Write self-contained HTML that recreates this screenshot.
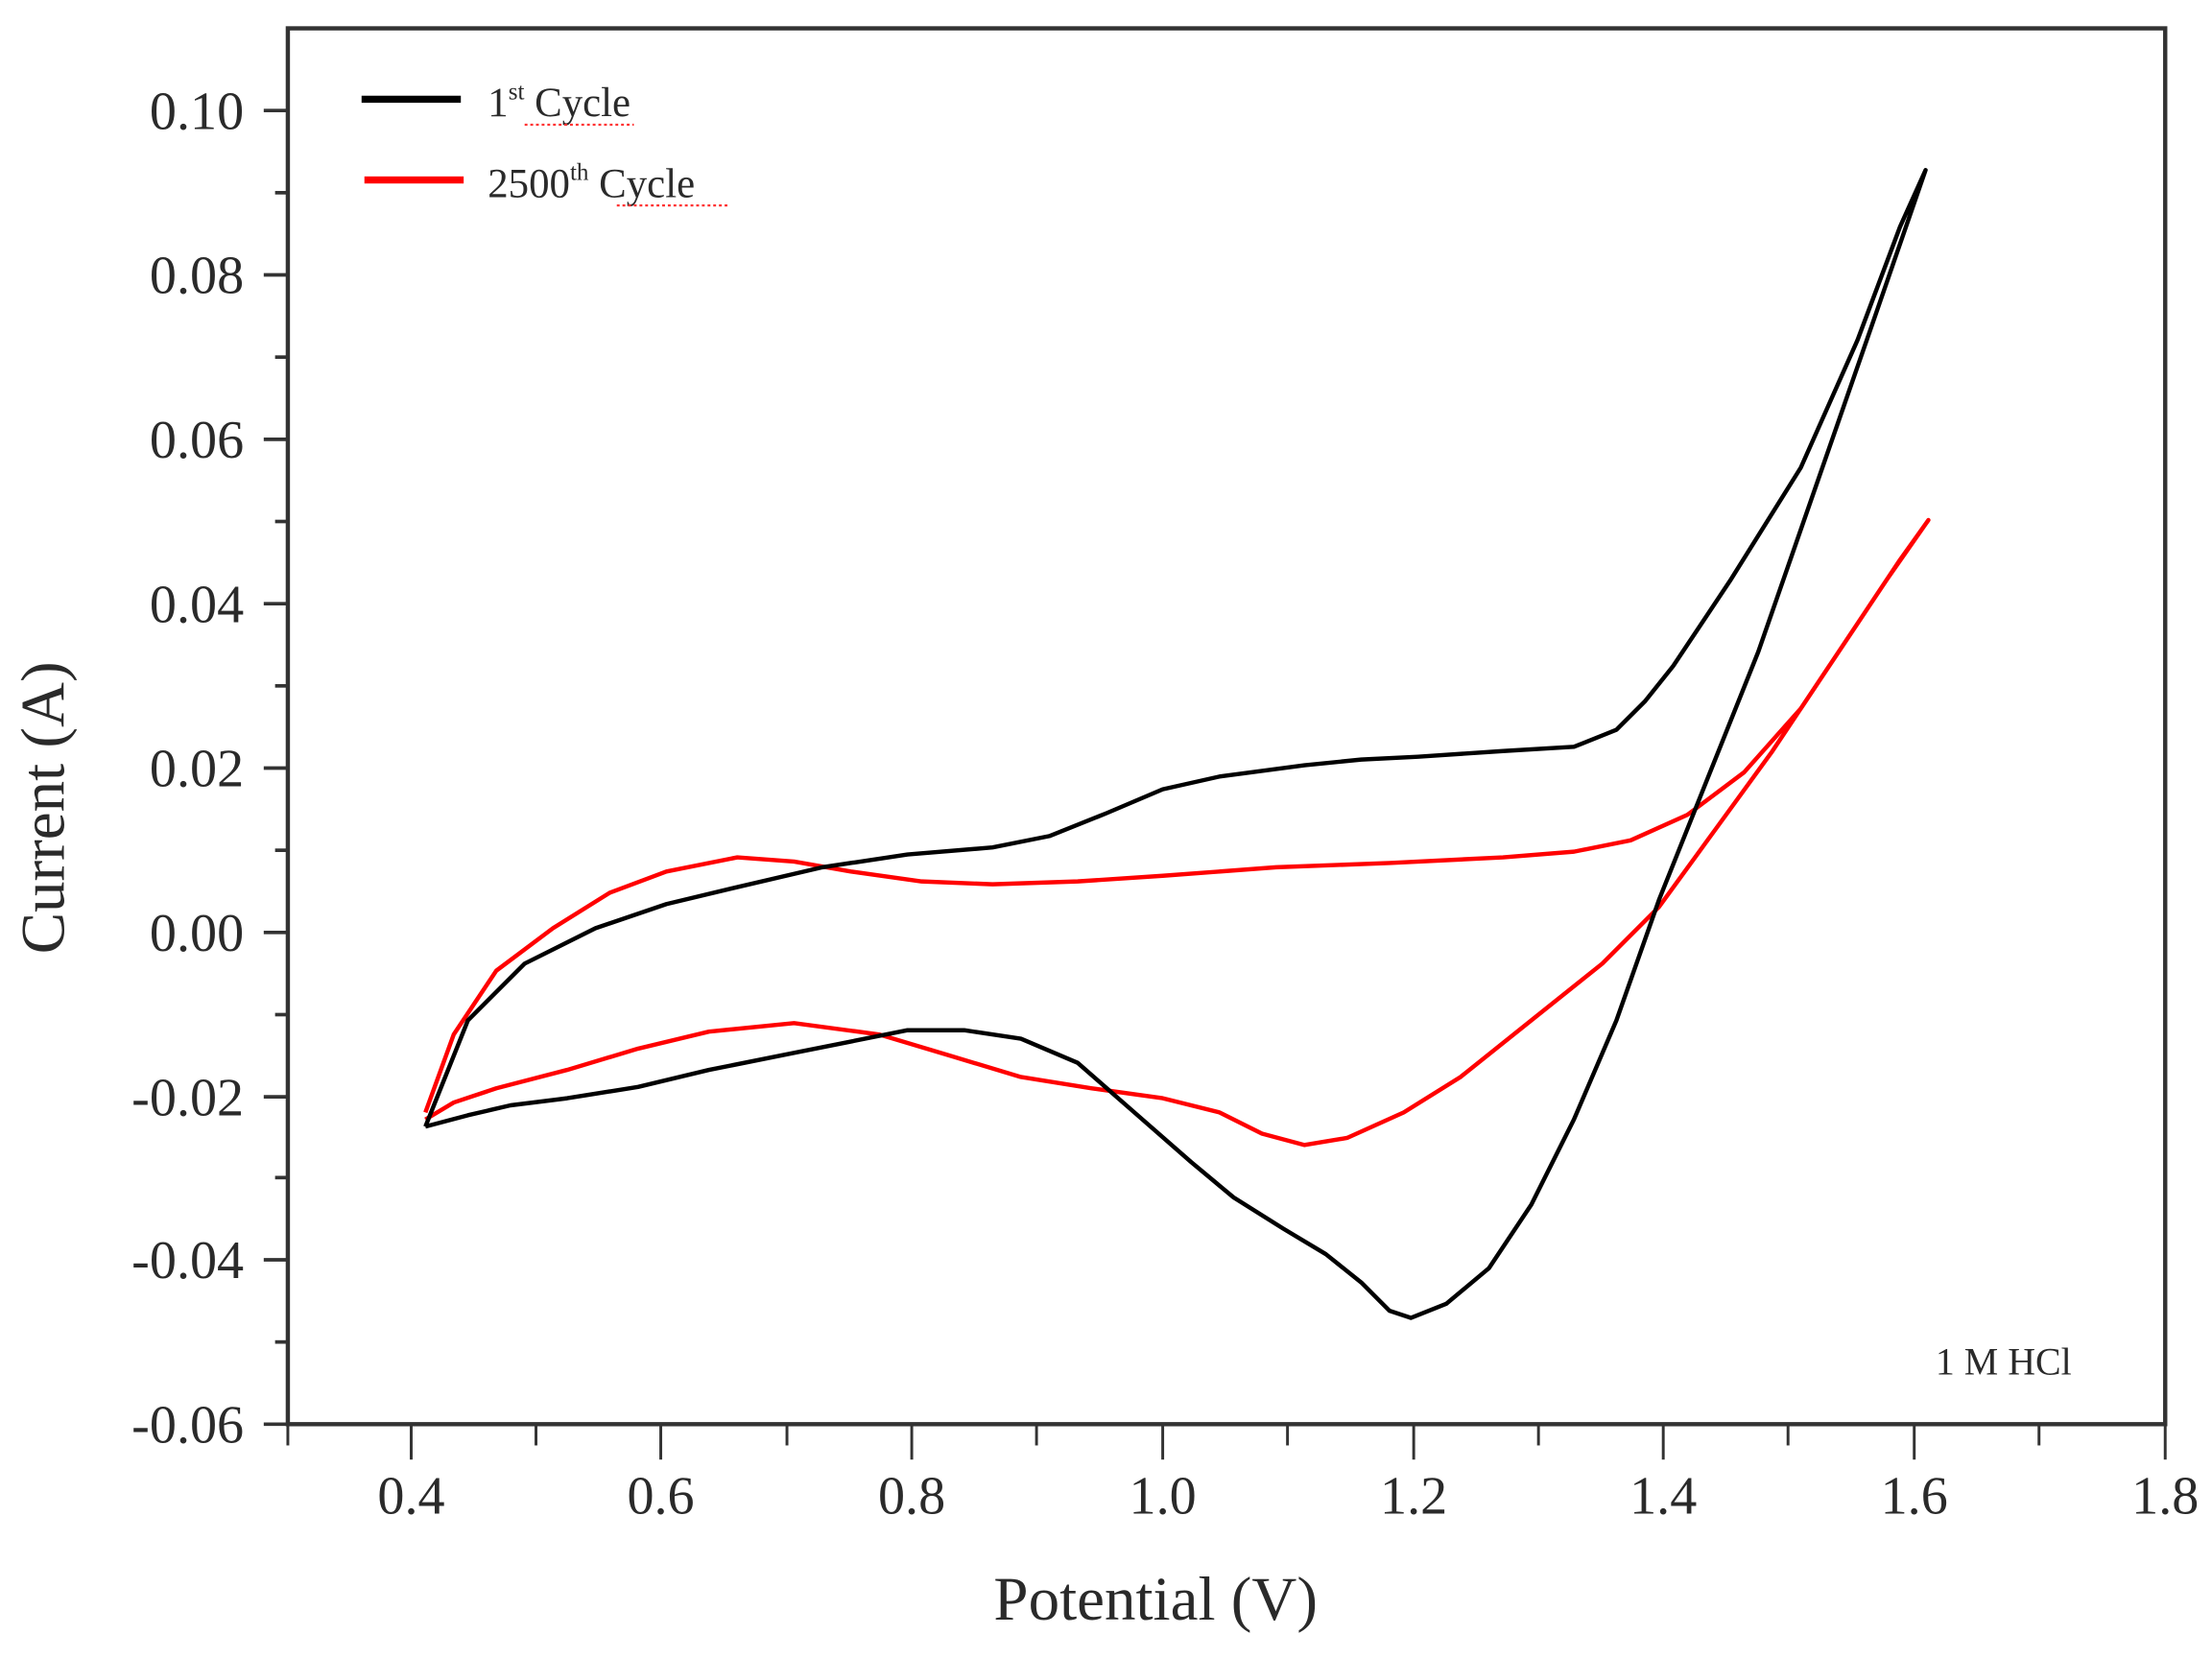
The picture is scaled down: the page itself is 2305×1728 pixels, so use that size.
<!DOCTYPE html>
<html><head><meta charset="utf-8"><style>
html,body{margin:0;padding:0;background:#fff;}
svg{display:block;}
text{font-family:"Liberation Serif",serif;fill:#2a2a2a;}
</style></head><body>
<svg width="2305" height="1728" viewBox="0 0 1560 1170" preserveAspectRatio="none" xmlns="http://www.w3.org/2000/svg">
<rect width="1560" height="1170" fill="#fff"/>
<!-- frame -->
<rect x="203" y="20" width="1324" height="985" fill="none" stroke="#333" stroke-width="3"/>
<!-- y ticks -->
<g stroke="#333" stroke-width="2.5">
<line x1="186" y1="78" x2="203" y2="78"/><line x1="194" y1="136" x2="203" y2="136"/>
<line x1="186" y1="194" x2="203" y2="194"/><line x1="194" y1="252" x2="203" y2="252"/>
<line x1="186" y1="310" x2="203" y2="310"/><line x1="194" y1="368" x2="203" y2="368"/>
<line x1="186" y1="426" x2="203" y2="426"/><line x1="194" y1="484" x2="203" y2="484"/>
<line x1="186" y1="542" x2="203" y2="542"/><line x1="194" y1="600" x2="203" y2="600"/>
<line x1="186" y1="658" x2="203" y2="658"/><line x1="194" y1="716" x2="203" y2="716"/>
<line x1="186" y1="774" x2="203" y2="774"/><line x1="194" y1="831" x2="203" y2="831"/>
<line x1="186" y1="889" x2="203" y2="889"/><line x1="194" y1="947" x2="203" y2="947"/>
<line x1="186" y1="1005" x2="203" y2="1005"/>
</g>
<!-- x ticks -->
<g stroke="#333" stroke-width="2">
<line x1="203" y1="1005" x2="203" y2="1020"/>
<line x1="290" y1="1005" x2="290" y2="1030"/><line x1="378" y1="1005" x2="378" y2="1020"/>
<line x1="466" y1="1005" x2="466" y2="1030"/><line x1="555" y1="1005" x2="555" y2="1020"/>
<line x1="643" y1="1005" x2="643" y2="1030"/><line x1="731" y1="1005" x2="731" y2="1020"/>
<line x1="820" y1="1005" x2="820" y2="1030"/><line x1="908" y1="1005" x2="908" y2="1020"/>
<line x1="997" y1="1005" x2="997" y2="1030"/><line x1="1085" y1="1005" x2="1085" y2="1020"/>
<line x1="1173" y1="1005" x2="1173" y2="1030"/><line x1="1261" y1="1005" x2="1261" y2="1020"/>
<line x1="1350" y1="1005" x2="1350" y2="1030"/><line x1="1438" y1="1005" x2="1438" y2="1020"/>
<line x1="1527" y1="1005" x2="1527" y2="1030"/>
</g>
<g font-size="38" text-anchor="end">
<text x="172" y="91">0.10</text><text x="172" y="207">0.08</text><text x="172" y="323">0.06</text>
<text x="172" y="439">0.04</text><text x="172" y="555">0.02</text><text x="172" y="671">0.00</text>
<text x="172" y="787">-0.02</text><text x="172" y="902">-0.04</text><text x="172" y="1018">-0.06</text>
</g>
<g font-size="38" text-anchor="middle">
<text x="290" y="1068">0.4</text><text x="466" y="1068">0.6</text><text x="643" y="1068">0.8</text>
<text x="820" y="1068">1.0</text><text x="997" y="1068">1.2</text><text x="1173" y="1068">1.4</text>
<text x="1350" y="1068">1.6</text><text x="1527" y="1068">1.8</text>
</g>
<text x="815" y="1143" font-size="44" text-anchor="middle">Potential (V)</text>
<text transform="translate(45,570) rotate(-90)" font-size="44" text-anchor="middle">Current (A)</text>
<!-- legend -->
<line x1="255" y1="70" x2="325" y2="70" stroke="#000" stroke-width="5"/>
<text x="344" y="82" font-size="29">1<tspan font-size="17" dy="-12">st</tspan><tspan dy="12"> Cycle</tspan></text>
<line x1="257" y1="127" x2="327" y2="127" stroke="#f00" stroke-width="5"/>
<text x="344" y="139" font-size="29">2500<tspan font-size="17" dy="-12">th</tspan><tspan dy="12"> Cycle</tspan></text>
<line x1="370" y1="88" x2="447" y2="88" stroke="#f33" stroke-width="1.5" stroke-dasharray="2,2"/>
<line x1="435" y1="145" x2="515" y2="145" stroke="#f33" stroke-width="1.5" stroke-dasharray="2,2"/>
<text x="1365" y="970" font-size="27">1 M HCl</text>
<!-- red curve -->
<polyline fill="none" stroke="#f00" stroke-width="3" stroke-linejoin="round" points="
300,785 320,730 350,685 390,655 430,630 470,615 520,605 560,608 600,615 650,622 700,624 760,622 820,618 900,612 980,609 1060,605 1110,601 1150,593 1190,575 1230,545 1270,500 1310,440 1340,395 1360,367
1330,410 1290,470 1250,530 1210,585 1170,640 1130,680 1080,720 1030,760 990,785 950,803 920,808 890,800 860,785 820,775 770,768 720,760 670,745 620,730 560,722 500,728 450,740 400,755 350,768 320,778 300,790"/>
<!-- black curve -->
<polyline fill="none" stroke="#000" stroke-width="3" stroke-linejoin="round" points="
300,795 330,720 370,680 420,655 470,638 520,626 580,612 640,603 700,598 740,590 780,574 820,557 860,548 920,540 960,536 1000,534 1060,530 1110,527 1140,515 1160,495 1180,470 1220,410 1270,330 1310,240 1340,160 1358,120
1320,230 1280,345 1240,460 1200,560 1170,635 1140,720 1110,790 1080,850 1050,895 1020,920 995,930 980,925 960,905 935,885 905,867 870,845 840,820 800,785 760,750 720,733 680,727 640,727 600,735 560,743 500,755 450,767 400,775 360,780 330,787 300,795"/>
</svg>
</body></html>
